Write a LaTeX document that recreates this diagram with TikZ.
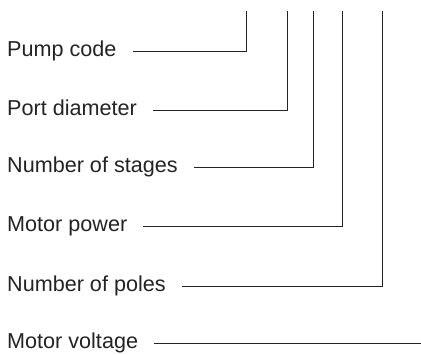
\documentclass[tikz,border=0pt]{standalone}
\usepackage{fontspec}
\setmainfont{Liberation Sans}
\usepackage{tikz}
\usetikzlibrary{calc, positioning}
\definecolor{inkgray}{RGB}{35, 35, 35}

\begin{document}
\begin{tikzpicture}[
    x=1pt, y=-1pt,
    font=\fontsize{21.6}{26}\selectfont,
    codelabel/.style={anchor=base west, inner sep=0pt, text=inkgray},
    leader/.style={draw=inkgray, line width=0.9pt}
]
    \useasboundingbox (0,0) rectangle (421,354);

    \node[codelabel] (pump) at (7,56.5) {Pump code};
    \node[codelabel] (port) at (7,115.5) {Port diameter};
    \node[codelabel] (stages) at (7,172) {Number of stages};
    \node[codelabel] (power) at (7,231.5) {Motor power};
    \node[codelabel] (poles) at (7,291.5) {Number of poles};
    \node[codelabel] (voltage) at (7,348) {Motor voltage};

    \coordinate (pumptop) at (246,11);
    \coordinate (porttop) at (287.3,11);
    \coordinate (stagestop) at (313.3,11);
    \coordinate (powertop) at (342.7,11);
    \coordinate (polestop) at (382.7,11);
    \coordinate (voltend) at (421,343);

    \draw[leader] ([xshift=16pt,yshift=5pt]pump.base east) -| (pumptop);
    \draw[leader] ([xshift=16pt,yshift=5pt]port.base east) -| (porttop);
    \draw[leader] ([xshift=16pt,yshift=5pt]stages.base east) -| (stagestop);
    \draw[leader] ([xshift=16pt,yshift=5pt]power.base east) -| (powertop);
    \draw[leader] ([xshift=16pt,yshift=5pt]poles.base east) -| (polestop);
    \draw[leader] ([xshift=16pt,yshift=5pt]voltage.base east) -- (voltend);
\end{tikzpicture}
\end{document}
